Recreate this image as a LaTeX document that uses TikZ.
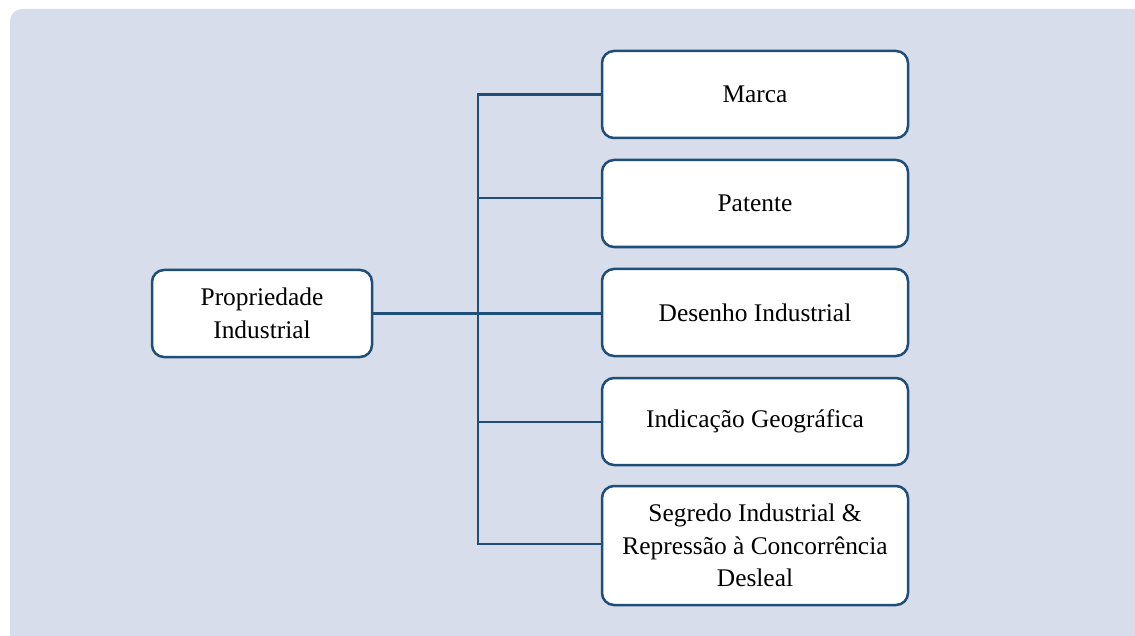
\documentclass[tikz,border=0pt]{standalone}
\usepackage{fontspec}
\setmainfont{Liberation Serif}
\usetikzlibrary{positioning}
\definecolor{bgcol}{HTML}{D7DDEA}
\definecolor{linecol}{HTML}{1F4E79}
\tikzset{box/.style={draw=linecol, line width=2.5bp, fill=white, rounded corners=12bp, minimum width=306bp, minimum height=87bp, align=center, inner sep=0pt, font=\fontsize{25.5}{32.5}\selectfont},
  link/.style={draw=linecol, line width=2.5bp}}

\begin{document}
\begin{tikzpicture}[x=1bp,y=-1bp,line join=miter]
%%
\clip (0,0) rectangle (1135,636);
\fill [bgcol, rounded corners=12bp] (10,9) rectangle (1170,670);
  \node (prop) at (262.0,313.5) [box, minimum width=220bp] {Propriedade\\Industrial};
  \node (marca) at (755.0,94.5) [box] {Marca};
  \node (patente) at (755.0,203.5) [box] {Patente};
  \node (desenho) at (755.0,312.5) [box] {Desenho Industrial};
  \node (indic) at (755.0,421.5) [box] {Indicação Geográfica};
  \node (segredo) at (755.0,545.5) [box, minimum height=119bp] {Segredo Industrial \&\\Repressão à Concorrência\\Desleal};
  \coordinate (jtop) at (478.0,94.5);
  \coordinate (jpat) at (478.0,198.0);
  \coordinate (jind) at (478.0,422.0);
  \coordinate (jbot) at (478.0,544.0);
  \draw [link] (marca.west) -- (jtop) -- (jbot) -- (jbot -| segredo.west);
  \draw [link] (jpat) -- (jpat -| patente.west);
  \draw [link] (prop.east) -- (prop.east -| desenho.west);
  \draw [link] (jind) -- (jind -| indic.west);
%
\end{tikzpicture}
\end{document}
